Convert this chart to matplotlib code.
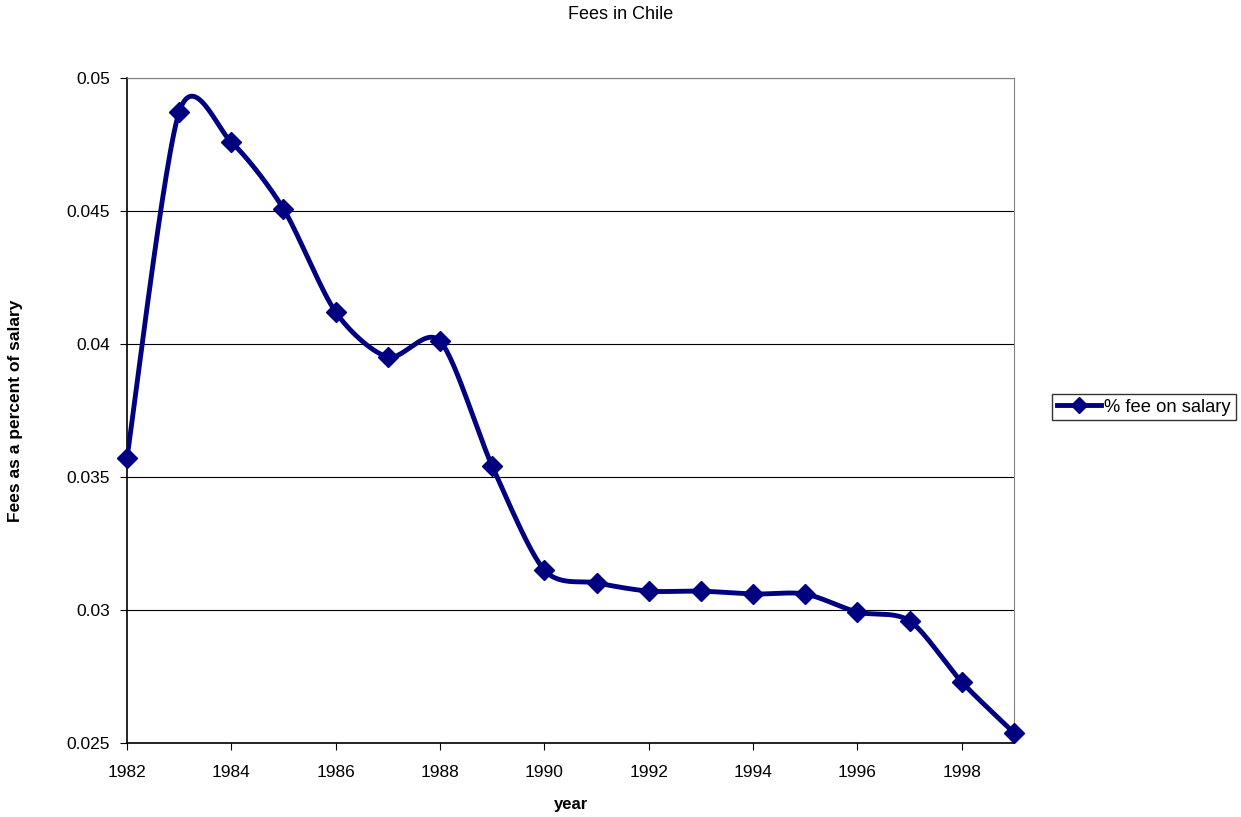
import numpy as np
import matplotlib
matplotlib.use("Agg")
import matplotlib.pyplot as plt

plt.rcParams['font.family'] = ['Liberation Sans', 'DejaVu Sans']

years = [1982, 1983, 1984, 1985, 1986, 1987, 1988, 1989, 1990,
         1991, 1992, 1993, 1994, 1995, 1996, 1997, 1998, 1999]
fees = [0.03571, 0.04872, 0.04759, 0.04508, 0.0412, 0.03951, 0.04011,
        0.03541, 0.0315, 0.03102, 0.03071, 0.03071, 0.0306, 0.0306,
        0.02992, 0.02959, 0.02729, 0.02538]
yticks = [0.025, 0.03, 0.035, 0.04, 0.045, 0.05]
yticklabels = ['0.025', '0.03', '0.035', '0.04', '0.045', '0.05']
xticks = list(range(1982, 2000, 2))

navy = '#000080'


def smooth(x, y, n=30, k=0.14):
    # smoothed line like a spreadsheet: cubic Bezier, Catmull-Rom style control points
    x = np.asarray(x, float)
    y = np.asarray(y, float)
    px = np.concatenate([[x[0]], x, [x[-1]]])
    py = np.concatenate([[y[0]], y, [y[-1]]])
    t = np.linspace(0, 1, n)
    xs, ys = [], []
    for i in range(1, len(px) - 2):
        p0 = np.array([px[i], py[i]])
        p3 = np.array([px[i + 1], py[i + 1]])
        c1 = p0 + (np.array([px[i + 1], py[i + 1]]) - np.array([px[i - 1], py[i - 1]])) * k
        c2 = p3 - (np.array([px[i + 2], py[i + 2]]) - np.array([px[i], py[i]])) * k
        b = ((1 - t) ** 3)[:, None] * p0 + (3 * (1 - t) ** 2 * t)[:, None] * c1 \
            + (3 * (1 - t) * t ** 2)[:, None] * c2 + (t ** 3)[:, None] * p3
        xs.append(b[:, 0])
        ys.append(b[:, 1])
    return np.concatenate(xs), np.concatenate(ys)


fig = plt.figure(figsize=(12.41, 8.17), dpi=100)
ax = fig.add_axes([0.1023, 0.0906, 0.7148, 0.8139])

sx, sy = smooth(years, fees)
ax.plot(sx, sy, color=navy, lw=3.5, solid_capstyle='round', zorder=3)
ax.plot(years, fees, ls='none', marker='D', ms=10, color=navy, zorder=4, clip_on=False)
ax.plot([], [], color=navy, lw=3.5, marker='D', ms=8, label='% fee on salary')

ax.set_xlim(1982, 1999)
ax.set_ylim(0.025, 0.05)
ax.set_xticks(xticks)
ax.set_xticklabels([str(v) for v in xticks])
ax.set_yticks(yticks)
ax.set_yticklabels(yticklabels)
ax.tick_params(direction='out', length=5, labelsize=12.5, color='black')
ax.tick_params(axis='x', pad=11)
ax.tick_params(axis='y', pad=7)
ax.yaxis.grid(True, color='black', lw=0.8)
ax.set_axisbelow(True)

for s in ['top', 'right']:
    ax.spines[s].set_color('#808080')
for s in ['left', 'bottom']:
    ax.spines[s].set_color('black')
    ax.spines[s].set_linewidth(1.2)

ax.set_xlabel('year', fontsize=12, fontweight='bold', labelpad=12)
ax.set_ylabel('Fees as a percent of salary', fontsize=12.5, fontweight='bold')
ax.yaxis.set_label_coords(-0.117, 0.5)
fig.text(0.5, 0.993, 'Fees in Chile', ha='center', va='top', fontsize=13)

leg = ax.legend(loc='center left', bbox_to_anchor=(1.043, 0.505), fontsize=13.2,
                frameon=True, fancybox=False, edgecolor='black', borderpad=0.25,
                handlelength=2.4, handletextpad=0.2, borderaxespad=0)
leg.get_frame().set_linewidth(1.0)

fig.savefig('out.png', dpi=100)
